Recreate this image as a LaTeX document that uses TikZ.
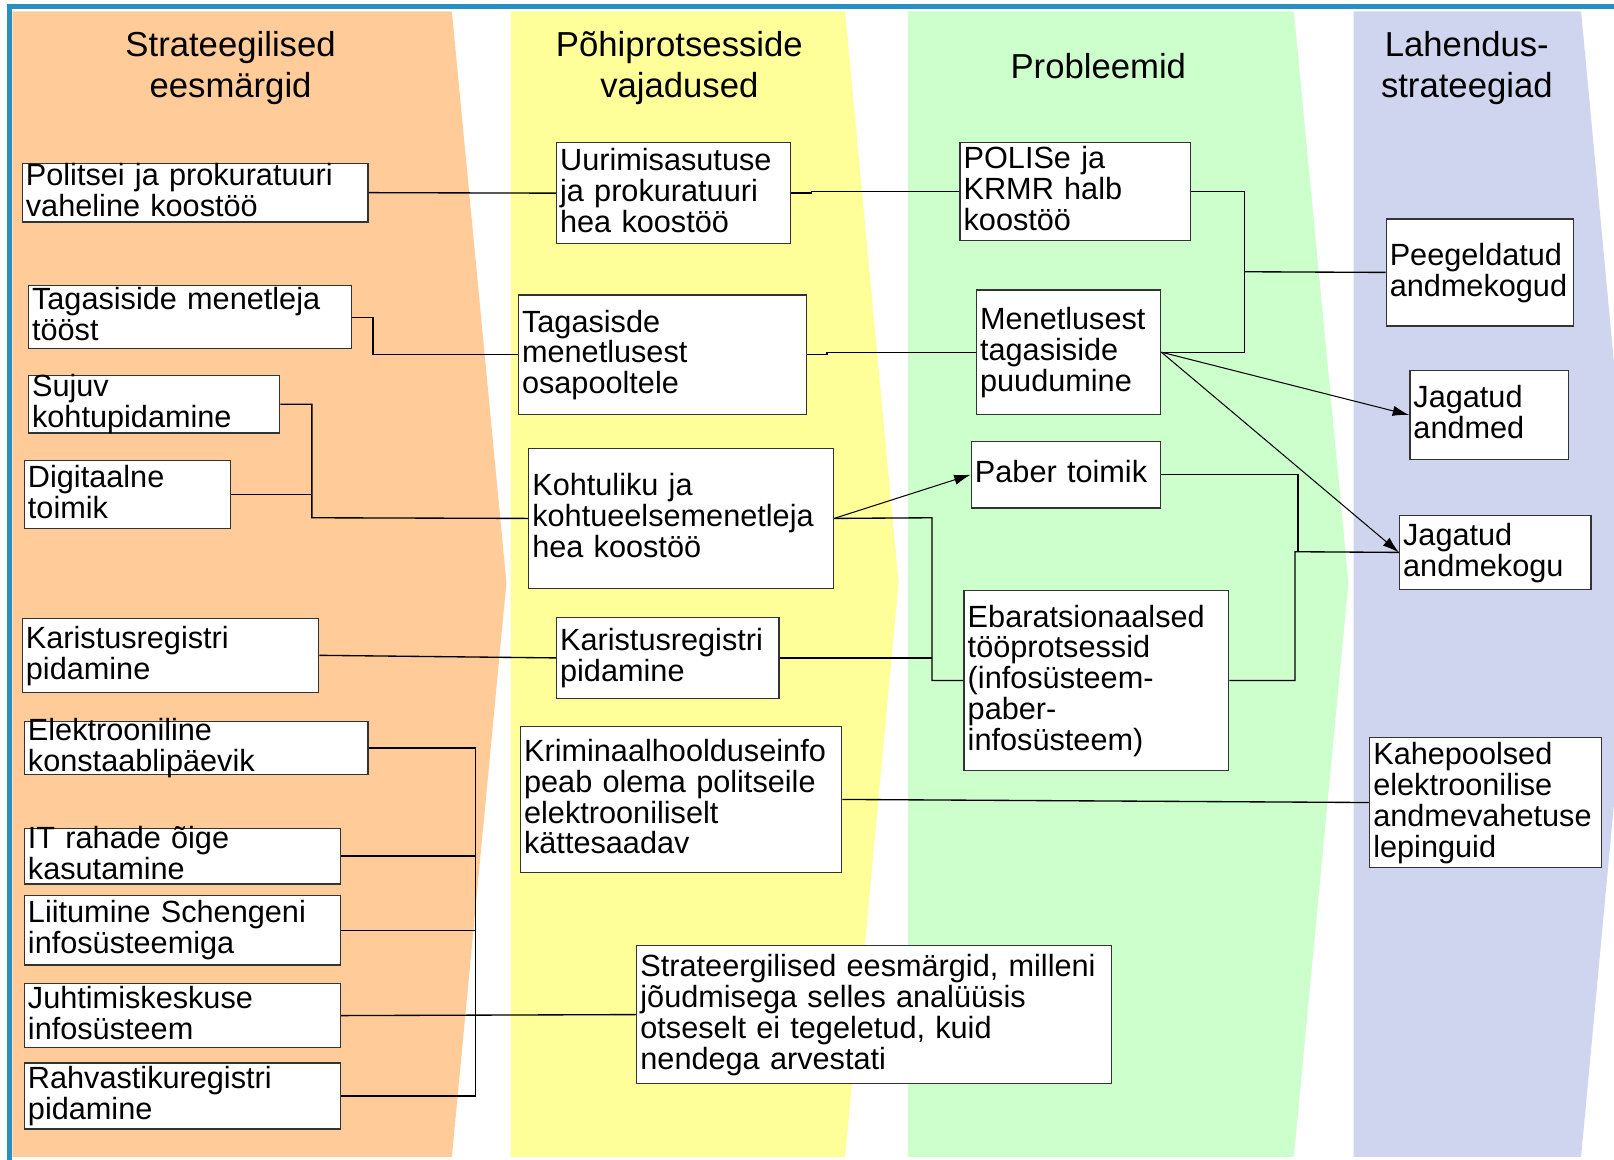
\documentclass[tikz,border=0pt]{standalone}
\usepackage{fontspec}
\setmainfont{Liberation Sans}
\usetikzlibrary{arrows.meta}

\definecolor{bandorange}{RGB}{255,204,153}
\definecolor{bandyellow}{RGB}{255,255,153}
\definecolor{bandgreen}{RGB}{204,255,204}
\definecolor{bandblue}{RGB}{207,213,238}
\definecolor{framecol}{RGB}{41,143,194}

% vertically centred, left aligned cell text (lines may overflow the box)
\newcommand{\cell}[1]{\vbox to 0pt{\vss\lineskiplimit=-\maxdimen\raggedright\noindent
  \vrule height 23pt width 0pt\relax #1\vrule depth 7pt width 0pt\par\vss}}

\begin{document}
\begin{tikzpicture}[x=1pt,y=-1pt,
  box/.style={draw=black!80, fill=white, line width=1.3pt, anchor=north west,
    inner xsep=3.5pt, inner ysep=0pt, align=left,
    font=\fontsize{29.8}{30}\selectfont},
  link/.style={draw=black, line width=1.3pt},
  arr/.style={draw=black, line width=1pt, -{Latex[length=16pt,width=10pt]}},
  head/.style={font=\fontsize{33.7}{40}\selectfont, align=center}]

\useasboundingbox (0,0) rectangle (1568,1126);
\clip (0,0) rectangle (1568,1126);

% column bands
\fill[bandorange] (12,11) -- (439,11) -- (492,566) -- (439,1124) -- (12,1124) -- cycle;
\fill[bandyellow] (496,11) -- (821,11) -- (873,566) -- (821,1124) -- (496,1124) -- cycle;
\fill[bandgreen]  (882,11) -- (1257,11) -- (1310,566) -- (1257,1124) -- (882,1124) -- cycle;
\fill[bandblue]   (1315,11) -- (1536,11) -- (1588,566) -- (1536,1124) -- (1315,1124) -- cycle;

% frame
\draw[framecol, line width=4.6pt] (9.2,1130) -- (9.2,6.3) -- (1575,6.3);

% column headings
\node[head] (h1) at (224,66) {Strateegilised\\eesmärgid};
\node[head] (h2) at (660,66) {Põhiprotsesside\\vajadused};
\node[head] (h3) at (1067,64) {Probleemid};
\node[head] (h4) at (1425,66) {Lahendus-\\strateegiad};

% strategic goals
\node[box, minimum width=336, minimum height=57, text width=329] (b1) at (21,158) {\cell{Politsei ja prokuratuuri\\vaheline koostöö}};
\node[box, minimum width=314, minimum height=61, text width=307] (b2) at (27,277) {\cell{Tagasiside menetleja\\tööst}};
\node[box, minimum width=244, minimum height=56, text width=237] (b3) at (27,364) {\cell{Sujuv\\kohtupidamine}};
\node[box, minimum width=200, minimum height=66, text width=193] (b4) at (23,447) {\cell{Digitaalne\\toimik}};
\node[box, minimum width=288, minimum height=72, text width=281] (b5) at (21,600) {\cell{Karistusregistri\\pidamine}};
\node[box, minimum width=334, minimum height=52, text width=327] (b6) at (23,700) {\cell{Elektrooniline\\konstaablipäevik}};
\node[box, minimum width=307, minimum height=54, text width=300] (b7) at (23,804) {\cell{IT rahade õige\\kasutamine}};
\node[box, minimum width=307, minimum height=68, text width=300] (b8) at (23,869) {\cell{Liitumine Schengeni\\infosüsteemiga}};
\node[box, minimum width=307, minimum height=62, text width=300] (b9) at (23,955) {\cell{Juhtimiskeskuse\\infosüsteem}};
\node[box, minimum width=307, minimum height=64, text width=300] (b10) at (23,1032) {\cell{Rahvastikuregistri\\pidamine}};

% core process needs
\node[box, minimum width=227, minimum height=98, text width=220] (n1) at (540,138) {\cell{Uurimisasutuse\\ja prokuratuuri\\hea koostöö}};
\node[box, minimum width=280, minimum height=116, text width=273] (n2) at (503,286) {\cell{Tagasisde\\menetlusest\\osapooltele}};
\node[box, minimum width=296, minimum height=136, text width=289] (n3) at (513,435) {\cell{Kohtuliku ja\\kohtueelsemenetleja\\hea koostöö}};
\node[box, minimum width=216, minimum height=79, text width=209] (n4) at (540,599) {\cell{Karistusregistri\\pidamine}};
\node[box, minimum width=312, minimum height=142, text width=305] (n5) at (505,705) {\cell{Kriminaalhoolduseinfo\\peab olema politseile\\elektrooniliselt\\kättesaadav}};
\node[box, minimum width=461, minimum height=134, text width=454] (n6) at (618,918) {\cell{Strateergilised eesmärgid, milleni\\jõudmisega selles analüüsis\\otseselt ei tegeletud, kuid\\nendega arvestati}};

% problems
\node[box, minimum width=224, minimum height=95, text width=217] (p1) at (932,138) {\cell{POLISe ja\\KRMR halb\\koostöö}};
\node[box, minimum width=179, minimum height=121, text width=172] (p2) at (948,281) {\cell{Menetlusest\\tagasiside\\puudumine}};
\node[box, minimum width=184, minimum height=65, text width=177] (p3) at (943,428) {\cell{Paber toimik}};
\node[box, minimum width=257, minimum height=175, text width=250] (p4) at (936,573) {\cell{Ebaratsionaalsed\\tööprotsessid\\(infosüsteem-\\paber-\\infosüsteem)}};

% solution strategies
\node[box, minimum width=182, minimum height=104, text width=175] (s1) at (1346,212) {\cell{Peegeldatud\\andmekogud}};
\node[box, minimum width=154, minimum height=87, text width=147] (s2) at (1369,359) {\cell{Jagatud\\andmed}};
\node[box, minimum width=186, minimum height=72, text width=179] (s3) at (1359,500) {\cell{Jagatud\\andmekogu}};
\node[box, minimum width=225, minimum height=126, text width=218] (s4) at (1330,716) {\cell{Kahepoolsed\\elektroonilise\\andmevahetuse\\lepinguid}};

% junction points
\coordinate (k1) at (303,503);
\coordinate (k2) at (462,726);
\coordinate (k3) at (905.5,503);
\coordinate (k4) at (1209,264);
\coordinate (k5) at (1261,536);

% goals -> needs
\draw[link] (b1.east) -- (n1.west);
\draw[link] (b2.east) -- ++(20,0) |- (n2.west);
\draw[link] (b3.east) -| (k1) -- (n3.west);
\draw[link] (b4.east) -- (b4.east -| k1);
\draw[link] (b5.east) -- (n4.west);
\draw[link] (b6.east) -- (b6.east -| k2) -- (b10.east -| k2) -- (b10.east);
\draw[link] (b7.east) -- (b7.east -| k2);
\draw[link] (b8.east) -- (b8.east -| k2);
\draw[link] (b9.east) -- (n6.west);

% needs -> problems / solutions
\draw[link] (n1.east) -- ++(20,0) |- (p1.west);
\draw[link] (n2.east) -- ++(19,0) |- (p2.west);
\draw[arr] (n3.east) -- (p3.west);
\draw[link] (n3.east) -- (k3) |- (p4.west);
\draw[link] (n4.east) -- (n4.east -| k3);
\draw[link] (n5.east) -- (s4.west);

% problems -> solutions
\draw[link] (p1.east) -| (k4) |- (p2.east);
\draw[link] (k4) -- (s1.west);
\draw[arr] (p2.east) -- (s2.west);
\draw[arr] (p2.east) -- (s3.west);
\draw[link] (p3.east) -| (k5);
\draw[link] (p4.east) -| ([xshift=-3pt]k5) -- (s3.west);

\end{tikzpicture}
\end{document}
